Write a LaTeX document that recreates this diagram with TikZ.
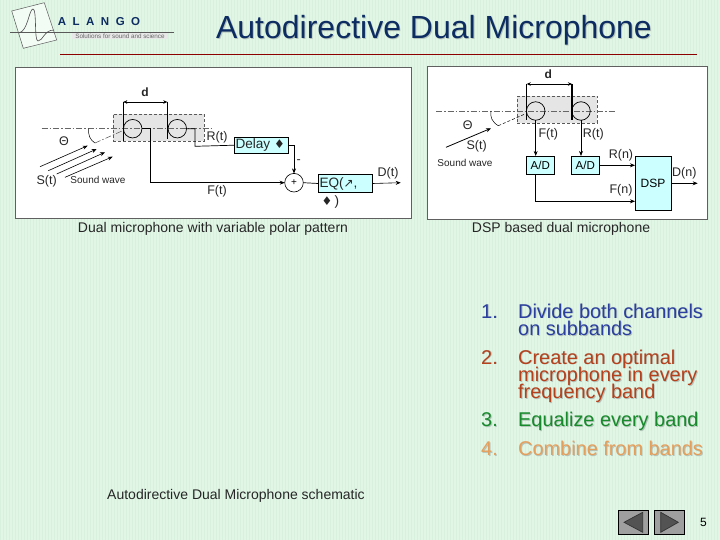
\documentclass[tikz,border=0pt]{standalone}
\usepackage{fontspec}
\setmainfont{Liberation Sans}
\newfontfamily\symfont{DejaVu Sans}
\usepackage{xcolor}
\usetikzlibrary{arrows.meta,positioning,shapes.geometric,calc}

\definecolor{bgmint}{HTML}{E2F6E6}
\definecolor{gridmint}{HTML}{D8F0DE}
\definecolor{boxcyan}{HTML}{CCFFFF}
\definecolor{titlenavy}{HTML}{0C2C62}
\definecolor{softgray}{HTML}{B4C4BA}
\definecolor{item1}{HTML}{2A3F9F}
\definecolor{item2}{HTML}{B5401C}
\definecolor{item3}{HTML}{178A2C}
\definecolor{item4}{HTML}{E59F5C}
\newcommand{\softshadow}[1]{\makebox[0pt][l]{\kern0.9pt\raisebox{-0.9pt}{\textcolor{softgray}{#1}}}#1}

\begin{document}
\begin{tikzpicture}[
  x=1pt, y=-1pt,
  gridline/.style={gridmint, line width=0.3pt},
  panel/.style={rectangle, draw=gray!75!black, fill=white, inner sep=0pt, line width=0.7pt},
  micbox/.style={rectangle, draw=gray!70!black, densely dashed, fill=gray!20, inner sep=0pt, line width=0.4pt},
  micro/.style={circle, draw=black, minimum size=18.5pt, inner sep=0pt, outer sep=0pt, line width=0.7pt},
  sigbox/.style={rectangle, draw=black, fill=boxcyan, inner sep=0pt, outer sep=0pt, line width=0.7pt},
  axisline/.style={gray!80!black, dash pattern=on 6pt off 2pt on 1.5pt off 2pt, line width=0.6pt},
  wire/.style={black, line width=0.7pt},
  arr/.style={-{Stealth[length=5pt,width=4pt]}, black, line width=0.6pt},
  dimarr/.style={{Stealth[length=4pt,width=3.5pt]}-{Stealth[length=4pt,width=3.5pt]}, black},
  annot/.style={font=\fontsize{12.5}{14}\selectfont, text=black!85, inner sep=0pt},
  small/.style={font=\fontsize{10}{12}\selectfont, text=black!85, inner sep=0pt},
  caption/.style={font=\fontsize{14}{16}\selectfont, text=black!85, inner sep=0pt},
  listitem/.style={font=\fontsize{19.9}{20}\selectfont, anchor=base west, inner sep=0pt},
  navbtn/.style={rectangle, draw=black, fill=gray!75, inner sep=0pt, line width=0.8pt, minimum width=30pt, minimum height=24.3pt},
  navtip/.style={draw=black!80, fill=gray!50!black!90, line width=0.7pt},
]
\useasboundingbox (0,0) rectangle (720,540);
\fill[bgmint] (0,0) rectangle (720,540);
\draw[gridline, step=3] (0,0) grid (720,540);

% Title and rule
\node[font=\fontsize{32}{34}\selectfont, text=titlenavy, inner sep=0pt] (title) at (434,30.5) {\softshadow{Autodirective Dual Microphone}};
\coordinate (ruleleft) at (60,54);
\coordinate (ruleright) at (697,54);
\draw[red!55!black, line width=0.7pt] (ruleleft) -- (ruleright);

% Logo
\draw[gray!70!black, fill=white!60!bgmint, line width=0.5pt] (11.7,11) -- (44.3,2.7) -- (56.7,40) -- (23.3,48.3) -- cycle;
\draw[gray!70!black, line width=0.5pt] (10,32.3) -- (174,32.3);
\fill[gray!18] (72,33) rectangle (168,39);
\draw[gray!60!black, line width=0.6pt] (19,33) .. controls (28,31) and (29,9) .. (33,9) .. controls (37,9) and (34,41) .. (38,41) .. controls (43,41) and (44,30) .. (54,30);
\node[font=\bfseries\fontsize{11.5}{13}\selectfont, text=titlenavy, inner sep=0pt] (alango) at (99,21.7) {A\kern6.5pt L\kern6.5pt A\kern6.5pt N\kern6.5pt G\kern6.5pt O};
\node[font=\fontsize{6.3}{7}\selectfont, text=gray!80!black, inner sep=0pt] (slogan) at (120,36) {Solutions for sound and science};

% Left panel
\node[panel, minimum width=396pt, minimum height=151pt] (leftpanel) at (213,142.5) {};
\node[micbox, minimum width=91pt, minimum height=27pt] (micsleft) at (158.5,127.5) {};
\draw[axisline] (41.7,128.7) -- (213,128.7);
\node[micro] (fmic) at (132.7,128.7) {};
\node[micro] (rmic) at (177.3,128.7) {};
\coordinate (ftop) at (123.3,102);
\coordinate (fbot) at (123.3,141);
\coordinate (rtop) at (167.3,102);
\coordinate (rbot) at (167.3,139);
\draw[black, line width=1.2pt] (ftop) -- (fbot);
\draw[black, line width=0.6pt] (rtop) -- (rbot);
\draw[dimarr] (ftop) -- (rtop);
\node[annot, font=\bfseries\fontsize{12}{14}\selectfont] (dleft) at (145,92) {d};

% Incoming waves
\coordinate (arcleft) at (88.7,128.7);
\coordinate (arcfoot) at (95,143);
\coordinate (micfoot) at (122,131);
\draw[black, line width=0.5pt] (arcleft) .. controls (88,135) and (90,140) .. (arcfoot);
\draw[axisline] (arcfoot) -- (micfoot);
\node[annot] (thetaleft) at (64,141) {Θ};
\draw[arr] (40,166.7) -- (87.7,145.7);
\draw[arr] (48.3,170.7) -- (96.7,149);
\draw[arr] (56.7,174) -- (105,152.3);
\draw[arr] (65,177.3) -- (112.7,156.7);
\node[annot] (stleft) at (46.7,181.7) {S(t)};
\node[small] (waveleft) at (98,180) {Sound wave};

% Signal path
\node[sigbox, minimum width=54pt, minimum height=15.7pt] (delay) at (261.3,145.2) {};
\node[annot, anchor=west, font=\fontsize{13.6}{15}\selectfont] (delaytext) at (delay.west) {\kern1pt Delay {\symfont\fontsize{12}{14}\selectfont ♦}};
\node[circle, draw=black, minimum size=18.6pt, inner sep=0pt, outer sep=0pt, line width=0.6pt, font=\fontsize{10}{12}\selectfont] (sum) at (294,182.7) {+};
\node[sigbox, minimum width=54.4pt, minimum height=17.6pt] (eq) at (345.5,183.5) {};
\node[annot, anchor=west, font=\fontsize{13.6}{15}\selectfont] (eqtext) at (eq.west) {\kern1pt EQ({\symfont\fontsize{12}{14}\selectfont ↗},};
\node[annot, anchor=north west, font=\fontsize{13.6}{15}\selectfont] (eqrest) at ([yshift=-3pt]eq.south west) {\kern3pt{\symfont\fontsize{12}{14}\selectfont ♦}\,)};
\coordinate (rbend) at (195,146.3);
\coordinate (fbend) at (150,182.7);
\coordinate (dout) at (400.7,182.7);
\draw[wire] (rmic.east) -| (rbend) -- (delay.west);
\draw[arr] (delay.east) -| (sum.north);
\draw[wire, line width=0.9pt] (fmic.east) -| (fbend);
\draw[arr] (fbend) -- (sum.west);
\draw[wire] (sum.east) -- (eq.west);
\draw[arr] (eq.east) -- (dout);
\node[annot] (rtleft) at (217,137) {R(t)};
\node[annot] (ftleft) at (217,191) {F(t)};
\node[annot] (dtleft) at (388,173) {D(t)};
\node[annot] (minus) at (298.7,162) {-};
\node[caption] (capleft) at (213,229) {Dual microphone with variable polar pattern};

% Right panel
\node[panel, minimum width=280pt, minimum height=152.6pt] (rightpanel) at (567.3,143) {};
\node[micbox, minimum width=80pt, minimum height=27.3pt] (micsright) at (557.3,109.7) {};
\draw[axisline] (436,111) -- (616,111);
\node[micro] (fmicb) at (535.7,111) {};
\node[micro] (rmicb) at (581,111) {};
\coordinate (ftopb) at (526.7,84);
\coordinate (fbotb) at (526.7,120);
\coordinate (rtopb) at (572,84);
\coordinate (rbotb) at (572,120);
\draw[black, line width=0.7pt] (ftopb) -- (fbotb);
\draw[black, line width=1.1pt] (rtopb) -- (rbotb);
\draw[dimarr, line width=0.9pt] (ftopb) -- (rtopb);
\node[annot, font=\bfseries\fontsize{12}{14}\selectfont] (dright) at (548.3,74) {d};
\coordinate (arcleftb) at (491,111);
\coordinate (arcfootb) at (498.3,125.7);
\coordinate (micfootb) at (525,114);
\draw[black, line width=0.5pt] (arcleftb) .. controls (490,117) and (492,122) .. (arcfootb);
\draw[black, densely dashed, line width=0.5pt] (arcfootb) -- (micfootb);
\node[annot] (thetaright) at (467.7,125) {Θ};
\draw[arr, line width=0.8pt] (446,147.3) -- (491,128.3);
\node[annot] (stright) at (476.7,146.7) {S(t)};
\node[small] (waveright) at (465,162.7) {Sound wave};

% A/D and DSP
\node[sigbox, minimum width=27.3pt, minimum height=18.7pt, font=\fontsize{11.5}{14}\selectfont] (adf) at (540.3,165.3) {A/D};
\node[sigbox, minimum width=28pt, minimum height=18.7pt, font=\fontsize{11.5}{14}\selectfont] (adr) at (585.3,165.3) {A/D};
\node[sigbox, minimum width=36pt, minimum height=53.6pt, font=\fontsize{12}{14}\selectfont] (dsp) at (653,183.5) {DSP};
\coordinate (fin) at (635,201.3);
\coordinate (dnout) at (697.7,183.3);
\draw[arr] (fmicb.south) -- (fmicb.south |- adf.north);
\draw[arr] (rmicb.south) -- (rmicb.south |- adr.north);
\draw[arr] (adr.east) -- (adr.east -| dsp.west);
\draw[arr] (fmicb.south |- adf.south) |- (fin);
\draw[arr] (dnout -| dsp.east) -- (dnout);
\node[annot] (ftright) at (548.3,134) {F(t)};
\node[annot] (rtright) at (593.3,134) {R(t)};
\node[annot] (rnright) at (621,155) {R(n)};
\node[annot] (fnright) at (621,190.7) {F(n)};
\node[annot] (dnright) at (684.3,173.3) {D(n)};
\node[caption] (capright) at (561,229) {DSP based dual microphone};

% Numbered list
\node[listitem, text=item1] (num1) at (481,318) {\softshadow{1.}};
\node[listitem, text=item1] (line1a) at (518,318) {\softshadow{Divide both channels}};
\node[listitem, text=item1] (line1b) at (518,335.5) {\softshadow{on subbands}};
\node[listitem, text=item2] (num2) at (481,364) {\softshadow{2.}};
\node[listitem, text=item2] (line2a) at (518,364) {\softshadow{Create an optimal}};
\node[listitem, text=item2] (line2b) at (518,381.5) {\softshadow{microphone in every}};
\node[listitem, text=item2] (line2c) at (518,398.5) {\softshadow{frequency band}};
\node[listitem, text=item3] (num3) at (481,426.5) {\softshadow{3.}};
\node[listitem, text=item3] (line3) at (518,426.5) {\softshadow{Equalize every band}};
\node[listitem, text=item4] (num4) at (481,455.5) {\softshadow{4.}};
\node[listitem, text=item4] (line4) at (518,455.5) {\softshadow{Combine from bands}};

\node[caption] (capmain) at (236,496) {Autodirective Dual Microphone schematic};

% Navigation
\node[navbtn] (prev) at (633.3,522.2) {};
\node[navbtn] (next) at (669.3,522.2) {};
\draw[navtip] (624,522.3) -- (642.7,512.3) -- (642.7,532.3) -- cycle;
\draw[navtip] (660.7,512.3) -- (660.7,532.3) -- (678.3,522.3) -- cycle;
\node[font=\fontsize{12}{14}\selectfont, inner sep=0pt] (pagenum) at (703.5,522.3) {5};

\end{tikzpicture}
\end{document}
